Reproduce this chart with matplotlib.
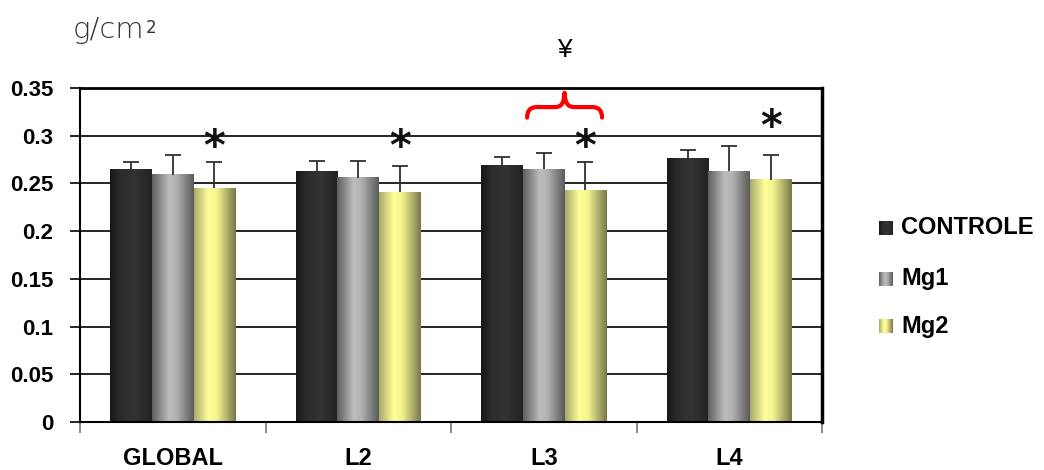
import numpy as np
import matplotlib
matplotlib.use("Agg")
import matplotlib.pyplot as plt
from matplotlib.path import Path
from matplotlib.patches import PathPatch
from matplotlib.colors import LinearSegmentedColormap

# ---------------- data ----------------
categories = ["GLOBAL", "L2", "L3", "L4"]
series = ["CONTROLE", "Mg1", "Mg2"]
controle = [0.265, 0.263, 0.269, 0.276]
controle_err = [0.007, 0.011, 0.009, 0.009]
mg1 = [0.259, 0.256, 0.265, 0.263]
mg1_err = [0.021, 0.018, 0.017, 0.026]
mg2 = [0.245, 0.241, 0.243, 0.254]
mg2_err = [0.027, 0.027, 0.029, 0.026]
star_y = [0.287, 0.287, 0.287, 0.308]   # asterisks over Mg2
yticks = [0, 0.05, 0.1, 0.15, 0.2, 0.25, 0.3, 0.35]
ytick_labels = ["0", "0.05", "0.1", "0.15", "0.2", "0.25", "0.3", "0.35"]
unit_label = "g/cm"
unit_sup = "2"
bracket_label = "¥"
bracket_category = "L3"

values = [controle, mg1, mg2]
errors = [controle_err, mg1_err, mg2_err]

# gradient styles (horizontal, per bar)
grad_stops = [
    [(0, "#171717"), (0.25, "#2c2c2c"), (0.6, "#333333"), (1, "#222222")],
    [(0, "#5e5e5e"), (0.4, "#bdbdbd"), (0.58, "#b2b2b2"), (1, "#5a5a5a")],
    [(0, "#a9a96b"), (0.35, "#ffff99"), (0.55, "#f3f390"), (1, "#78784a")],
]
cmaps = [LinearSegmentedColormap.from_list(f"g{i}", s) for i, s in enumerate(grad_stops)]
grad = np.linspace(0, 1, 256).reshape(1, -1)

W, H = 1044, 470
fig = plt.figure(figsize=(W / 100, H / 100), dpi=100)
ax = fig.add_axes([80 / W, 1 - 422 / H, (822 - 80) / W, (422 - 88) / H])

bold = dict(family="Liberation Sans", weight="bold")

n = len(categories)
bw = 0.2245
x = np.arange(n) + 0.5

for j in range(len(series)):
    pos = x + (j - 1) * bw
    bars = ax.bar(pos, values[j], width=bw, color="none", edgecolor="none", zorder=2)
    for rect in bars:
        x0 = rect.get_x()
        ax.imshow(grad, cmap=cmaps[j], extent=[x0, x0 + rect.get_width(), 0, rect.get_height()],
                  aspect="auto", interpolation="bilinear", zorder=2)
    tops = np.array(values[j]) + np.array(errors[j])
    ax.vlines(pos, values[j], tops, color="#303030", lw=1.3, zorder=3)
    ax.hlines(tops, pos - 0.043, pos + 0.043, color="#303030", lw=1.3, zorder=3)

# asterisks above Mg2
for i in range(n):
    ax.text(x[i] + bw, star_y[i], "*", ha="center", va="center", fontsize=30,
            family="DejaVu Sans", weight="bold", color="#111111", zorder=4)

# bracket over Mg1 & Mg2 in L3
k = categories.index(bracket_category)
xa = x[k] - 0.4 * bw
xb = x[k] + bw + 0.4 * bw
xc = (xa + xb) / 2
yb, yh, yt = 0.319, 0.330, 0.345
r = 0.05
verts = [(xa, yb), (xa, yh), (xa + r, yh), (xc - r, yh), (xc, yh), (xc, yt),
         (xc, yh), (xc + r, yh), (xb - r, yh), (xb, yh), (xb, yb)]
codes = [Path.MOVETO, Path.CURVE3, Path.CURVE3, Path.LINETO, Path.CURVE3, Path.CURVE3,
         Path.CURVE3, Path.CURVE3, Path.LINETO, Path.CURVE3, Path.CURVE3]
ax.add_patch(PathPatch(Path(verts, codes), fill=False, edgecolor="#ff0000", lw=3,
                       capstyle="round", joinstyle="round", zorder=4, clip_on=False))
ax.text(xc, 0.39, bracket_label, ha="center", va="center", fontsize=19,
        family="Liberation Sans", color="black", clip_on=False)

# axes styling
ax.set_xlim(0, n)
ax.set_ylim(0, 0.35)
ax.set_yticks(yticks)
ax.set_yticklabels(ytick_labels, **bold, fontsize=16)
ax.yaxis.grid(True, color="black", lw=1.2, zorder=1)
ax.set_axisbelow(True)
ax.tick_params(axis="y", length=7, width=1.2, pad=12, color="black")

ax.set_xticks(np.arange(n + 1))
ax.set_xticklabels([])
ax.set_xticks(x, minor=True)
ax.set_xticklabels(categories, minor=True, **bold, fontsize=17)
ax.tick_params(axis="x", which="major", length=8, width=1.2, color="#777777")
ax.tick_params(axis="x", which="minor", length=0, pad=18)

for s in ["left", "bottom"]:
    ax.spines[s].set_linewidth(1.5)
    ax.spines[s].set_color("black")
ax.spines["right"].set_linewidth(2.5)
ax.spines["right"].set_color("black")
ax.spines["top"].set_linewidth(2.0)
ax.spines["top"].set_color("black")

# unit label (base text + small raised superscript)
ut = fig.text(73 / W, 1 - 30 / H, unit_label, ha="left", va="center", fontsize=21,
              family="DejaVu Sans", weight="light", color="#333333")
fig.canvas.draw()
bb = ut.get_window_extent()
fig.text((bb.x1 + 1) / W, (bb.y1 - 3) / H, unit_sup, ha="left", va="top", fontsize=12,
         family="DejaVu Sans", color="#333333")

# legend (manual, gradient swatches)
lax = fig.add_axes([0, 0, 1, 1])
lax.set_xlim(0, W)
lax.set_ylim(H, 0)
lax.axis("off")
lax.patch.set_visible(False)
leg_y = [228, 279, 326]
for j, name in enumerate(series):
    yc = leg_y[j]
    lax.imshow(grad, cmap=cmaps[j], extent=[879, 893, yc + 7, yc - 7], aspect="auto",
               interpolation="bilinear")
    lax.text(901, yc, name, ha="left", va="center", fontsize=17, **bold)
lax.set_xlim(0, W)
lax.set_ylim(H, 0)

fig.savefig("out.png", dpi=100)
